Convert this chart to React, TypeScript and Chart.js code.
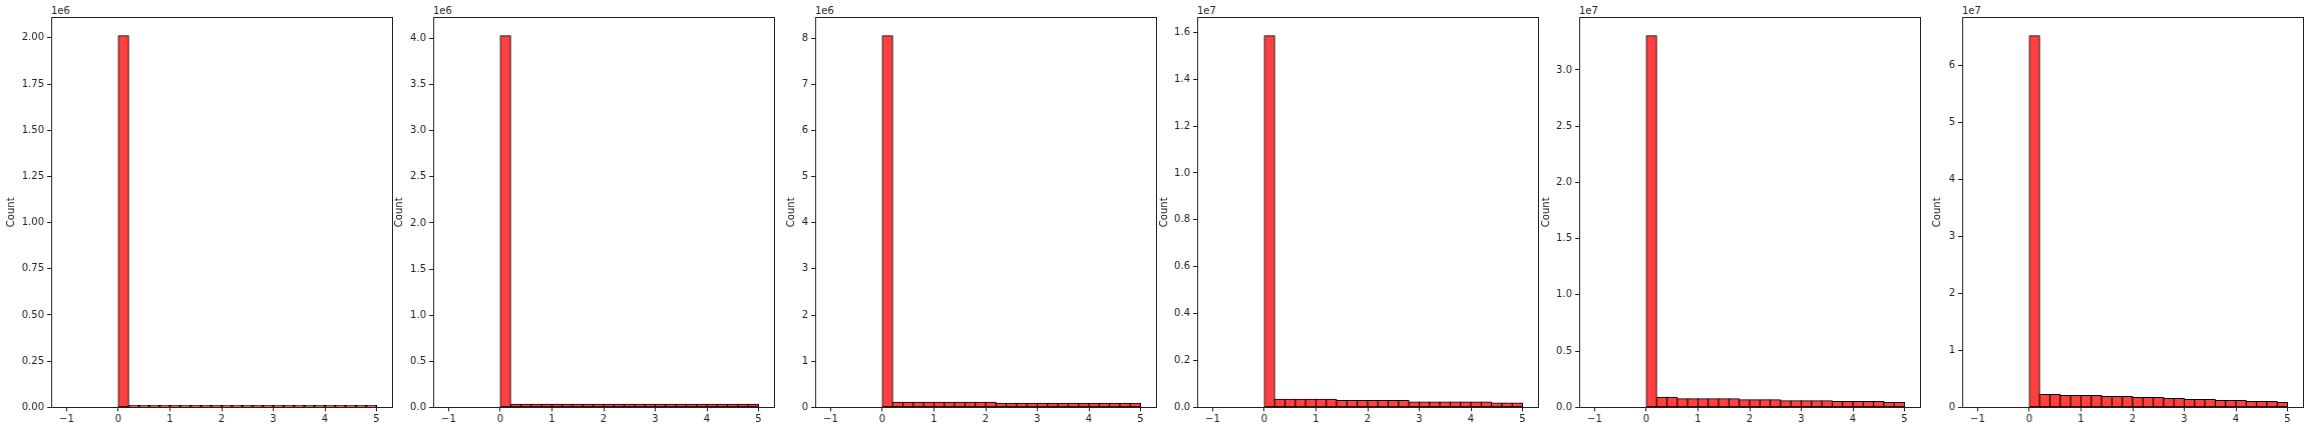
import React, { useEffect, useRef } from 'react';
import { Chart, registerables } from 'chart.js';

Chart.register(...registerables);

// Histogram bins (centres of 0.2-wide bins from 0 to 5)
const binCenters = [0.1, 0.3, 0.5, 0.7, 0.9, 1.1, 1.3, 1.5, 1.7, 1.9, 2.1, 2.3, 2.5, 2.7, 2.9, 3.1, 3.3, 3.5, 3.7, 3.9, 4.1, 4.3, 4.5, 4.7, 4.9];

const xTickValues = [-1, 0, 1, 2, 3, 4, 5];
const xTickLabels = ['−1', '0', '1', '2', '3', '4', '5'];

const counts1 = [2011000, 10000, 10000, 10000, 10000, 10000, 10000, 10000, 10000, 10000, 10000, 10000, 10000, 10000, 10000, 10000, 10000, 10000, 10000, 10000, 10000, 10000, 10000, 10000, 10000];
const counts2 = [4030000, 33000, 33000, 33000, 33000, 33000, 33000, 33000, 33000, 33000, 33000, 33000, 33000, 33000, 33000, 33000, 33000, 33000, 33000, 33000, 33000, 33000, 33000, 33000, 33000];
const counts3 = [8050000, 108000, 108000, 108000, 108000, 108000, 108000, 108000, 108000, 108000, 108000, 87000, 87000, 87000, 87000, 87000, 87000, 87000, 87000, 87000, 87000, 87000, 87000, 87000, 87000];
const counts4 = [15850000, 342000, 342000, 342000, 342000, 342000, 342000, 286000, 286000, 286000, 286000, 286000, 286000, 286000, 230000, 230000, 230000, 230000, 230000, 230000, 230000, 230000, 185000, 185000, 185000];
const counts5 = [33030000, 890000, 890000, 770000, 770000, 770000, 770000, 770000, 770000, 680000, 680000, 680000, 680000, 590000, 590000, 590000, 590000, 590000, 510000, 510000, 510000, 510000, 510000, 420000, 420000];
const counts6 = [65200000, 2230000, 2230000, 2060000, 2060000, 2060000, 2060000, 1880000, 1880000, 1880000, 1710000, 1710000, 1710000, 1530000, 1530000, 1350000, 1350000, 1350000, 1180000, 1180000, 1180000, 1000000, 1000000, 1000000, 830000];

const yTicks1 = ['0.00', '0.25', '0.50', '0.75', '1.00', '1.25', '1.50', '1.75', '2.00'];
const yTicks2 = ['0.0', '0.5', '1.0', '1.5', '2.0', '2.5', '3.0', '3.5', '4.0'];
const yTicks3 = ['0', '1', '2', '3', '4', '5', '6', '7', '8'];
const yTicks4 = ['0.0', '0.2', '0.4', '0.6', '0.8', '1.0', '1.2', '1.4', '1.6'];
const yTicks5 = ['0.0', '0.5', '1.0', '1.5', '2.0', '2.5', '3.0'];
const yTicks6 = ['0', '1', '2', '3', '4', '5', '6'];

const exponents = [6, 6, 6, 7, 7, 7];

const FONT = { family: "'DejaVu Sans', sans-serif", size: 10 };
const TEXT = '#222';

const AXES_LEFT = [51.3, 433.3, 815.3, 1197.3, 1579.3, 1962.3];
const AXES_WIDTH = 340.4;
const AXES_TOP = 17.3;
const AXES_BOTTOM = 407.3;
const TITLE_OFFSET = [39.8, 33.8, 23.8, 32.8, 32.8, 24.1];
const LEFT_SPACE = 60;
const RIGHT_SPACE = 6;
const H = 431;

const panels = [
  { counts: counts1, yTicks: yTicks1 },
  { counts: counts2, yTicks: yTicks2 },
  { counts: counts3, yTicks: yTicks3 },
  { counts: counts4, yTicks: yTicks4 },
  { counts: counts5, yTicks: yTicks5 },
  { counts: counts6, yTicks: yTicks6 },
];

const framePlugin = {
  id: 'frame',
  afterDatasetsDraw(chart: any, _args: any, opts: any) {
    const { ctx, chartArea } = chart;
    const a = (v: number) => Math.round(v - 0.5) + 0.5;
    ctx.save();
    ctx.strokeStyle = '#222';
    ctx.lineWidth = 1;
    const l = a(chartArea.left), r = a(chartArea.right), t = a(chartArea.top), b = a(chartArea.bottom);
    ctx.strokeRect(l, t, r - l, b - t);
    ctx.fillStyle = TEXT;
    ctx.font = "10px 'DejaVu Sans', sans-serif";
    ctx.textAlign = 'left';
    ctx.textBaseline = 'alphabetic';
    ctx.fillText(opts.offsetText, chartArea.left, chartArea.top - 3);
    ctx.restore();
  },
};

function Panel({ index }: { index: number }) {
  const ref = useRef<HTMLCanvasElement | null>(null);
  const { counts, yTicks } = panels[index];
  const exp = exponents[index];
  const scale = Math.pow(10, exp);
  const canvasLeft = AXES_LEFT[index] - LEFT_SPACE;
  const canvasWidth = LEFT_SPACE + AXES_WIDTH + RIGHT_SPACE;
  const padLeft = LEFT_SPACE - TITLE_OFFSET[index] - 6;

  useEffect(() => {
    if (!ref.current) return;
    const peak = Math.max(...counts);
    const yValues = yTicks.map((s) => parseFloat(s) * scale);
    const chart = new Chart(ref.current, {
      type: 'bar',
      data: {
        datasets: [
          {
            data: binCenters.map((x, i) => ({ x, y: counts[i] })),
            backgroundColor: '#ff4040',
            borderColor: '#000',
            borderWidth: 1,
            inflateAmount: 0.5,
            borderSkipped: false,
            barPercentage: 1,
            categoryPercentage: 1,
          } as any,
        ],
      },
      options: {
        animation: false,
        responsive: false,
        maintainAspectRatio: false,
        events: [],
        layout: { padding: { left: padLeft, top: AXES_TOP, right: RIGHT_SPACE, bottom: 0 } },
        plugins: {
          legend: { display: false },
          tooltip: { enabled: false },
          frame: { offsetText: '1e' + exp },
        } as any,
        scales: {
          x: {
            type: 'linear',
            min: -1.3,
            max: 5.3,
            offset: false,
            grid: { display: true, drawOnChartArea: false, drawTicks: true, tickLength: 4, color: '#222', offset: false },
            border: { display: false },
            ticks: {
              font: FONT,
              color: TEXT,
              padding: 2,
              maxRotation: 0,
              autoSkip: false,
              includeBounds: false,
              callback: (_v: any, i: number) => xTickLabels[i],
            },
            afterBuildTicks: (axis: any) => {
              axis.ticks = xTickValues.map((v) => ({ value: v }));
            },
            afterFit: (s: any) => {
              s.height = H - AXES_BOTTOM;
            },
          },
          y: {
            type: 'linear',
            min: 0,
            max: peak * 1.05,
            grid: { display: true, drawOnChartArea: false, drawTicks: true, tickLength: 4, color: '#222' },
            border: { display: false },
            ticks: {
              font: FONT,
              color: TEXT,
              padding: 3,
              autoSkip: false,
              includeBounds: false,
              callback: (_v: any, i: number) => yTicks[i],
            },
            afterBuildTicks: (axis: any) => {
              axis.ticks = yValues.map((v) => ({ value: v }));
            },
            title: { display: true, text: 'Count', font: FONT, color: TEXT, padding: 0 },
            afterFit: (s: any) => {
              s.width = LEFT_SPACE - padLeft;
            },
          },
        } as any,
      },
      plugins: [framePlugin],
    });
    return () => chart.destroy();
  }, []);

  return (
    <canvas
      ref={ref}
      width={canvasWidth}
      height={H}
      style={{ position: 'absolute', left: canvasLeft, top: 0, width: canvasWidth, height: H }}
    />
  );
}

export default function App() {
  return (
    <div style={{ position: 'absolute', left: 0, top: 0, width: 2309, height: 431, background: '#fff', overflow: 'hidden' }}>
      {panels.map((_, i) => (
        <Panel key={i} index={i} />
      ))}
    </div>
  );
}
